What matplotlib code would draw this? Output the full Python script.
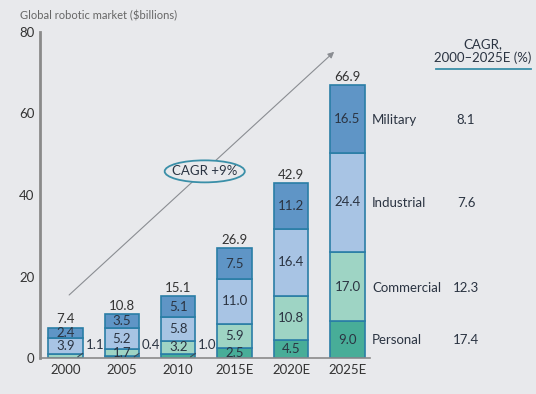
import numpy as np
import matplotlib.pyplot as plt
from matplotlib.patches import Ellipse

plt.rcParams['font.family'] = ['Lato', 'DejaVu Sans']

# data ($ billions)
years = ['2000', '2005', '2010', '2015E', '2020E', '2025E']
personal = [0.0, 0.4, 1.0, 2.5, 4.5, 9.0]
commercial = [1.1, 1.7, 3.2, 5.9, 10.8, 17.0]
industrial = [3.9, 5.2, 5.8, 11.0, 16.4, 24.4]
military = [2.4, 3.5, 5.1, 7.5, 11.2, 16.5]
totals = [7.4, 10.8, 15.1, 26.9, 42.9, 66.9]
segments = ['Personal', 'Commercial', 'Industrial', 'Military']
cagr = [17.4, 12.3, 7.6, 8.1]

colors = ['#48ad98', '#9ed4c4', '#a8c4e4', '#5f95c6']
edge = '#2a7ea6'
txt = '#2b3442'
bg = '#e8e9ec'
fs = 9.5

fig = plt.figure(figsize=(5.36, 3.94), dpi=100, facecolor=bg)
ax = fig.add_axes([40 / 536, 36 / 394, 330 / 536, 326 / 394])
ax.set_facecolor(bg)

x = np.arange(len(years))
w = 0.61
series = [personal, commercial, industrial, military]
bottom = np.zeros(len(years))
for vals, c in zip(series, colors):
    ax.bar(x, vals, w, bottom=bottom, color=c, edgecolor=edge, linewidth=1.2)
    for i, v in enumerate(vals):
        if v >= 1.5:
            ax.text(x[i], bottom[i] + v / 2, f'{v:.1f}', ha='center', va='center',
                    fontsize=fs, color=txt)
    bottom += np.array(vals)

# small bottom values labelled with leaders
small = [(0, commercial[0]), (1, personal[1]), (2, personal[2])]
for i, v in small:
    ax.annotate(f'{v:.1f}', xy=(x[i] + 0.22, 0.3), xytext=(x[i] + 0.52, 3.2),
                ha='center', va='center', fontsize=fs, color=txt,
                arrowprops=dict(arrowstyle='-', color='#3a4a5a', lw=0.8,
                                shrinkA=5, shrinkB=0))

for i, t in enumerate(totals):
    ax.text(x[i], t + 0.6, f'{t:.1f}', ha='center', va='bottom', fontsize=fs, color='#333333')

# trend arrow and CAGR bubble
ax.annotate('', xy=(4.8, 75.6), xytext=(0.03, 15),
            arrowprops=dict(arrowstyle='-|>', color='#8a8d92', lw=0.8, mutation_scale=9))
ax.add_patch(Ellipse((2.47, 45.8), 1.42, 5.4, facecolor=bg, edgecolor='#3a8fa8', lw=1.3, zorder=3))
ax.text(2.47, 45.8, 'CAGR +9%', ha='center', va='center', fontsize=fs, color=txt, zorder=4)

ax.set_xlim(-0.45, 5.4)
ax.set_ylim(0, 80)
ax.set_yticks([0, 20, 40, 60, 80])
ax.set_xticks(x)
ax.set_xticklabels(years)
ax.tick_params(length=0, labelsize=fs, colors='#333333', pad=4)
for s in ['top', 'right']:
    ax.spines[s].set_visible(False)
ax.spines['left'].set_color('#8a8a8a')
ax.spines['left'].set_linewidth(2)
ax.spines['bottom'].set_color('#8a8a8a')
ax.spines['bottom'].set_linewidth(1.2)

fig.text(20 / 536, 1 - 16 / 394, 'Global robotic market ($billions)', fontsize=8,
         color='#666666', va='center')

# segment names and CAGR column on the right
for name, val, py in zip(segments, cagr, [340, 288, 203, 120]):
    fig.text(372 / 536, 1 - py / 394, name, fontsize=fs, color=txt, va='center')
    fig.text(466 / 536, 1 - py / 394, f'{val:.1f}', fontsize=fs, color=txt,
             va='center', ha='center')

fig.text(483 / 536, 1 - 51 / 394, 'CAGR,\n2000\u20132025E (%)', fontsize=fs, color=txt,
         ha='center', va='center', linespacing=1.1)
fig.add_artist(plt.Line2D([436 / 536, 531 / 536], [1 - 69 / 394] * 2, color='#3a8fa8', lw=1.3))

fig.savefig('out.png', dpi=100, facecolor=bg)
